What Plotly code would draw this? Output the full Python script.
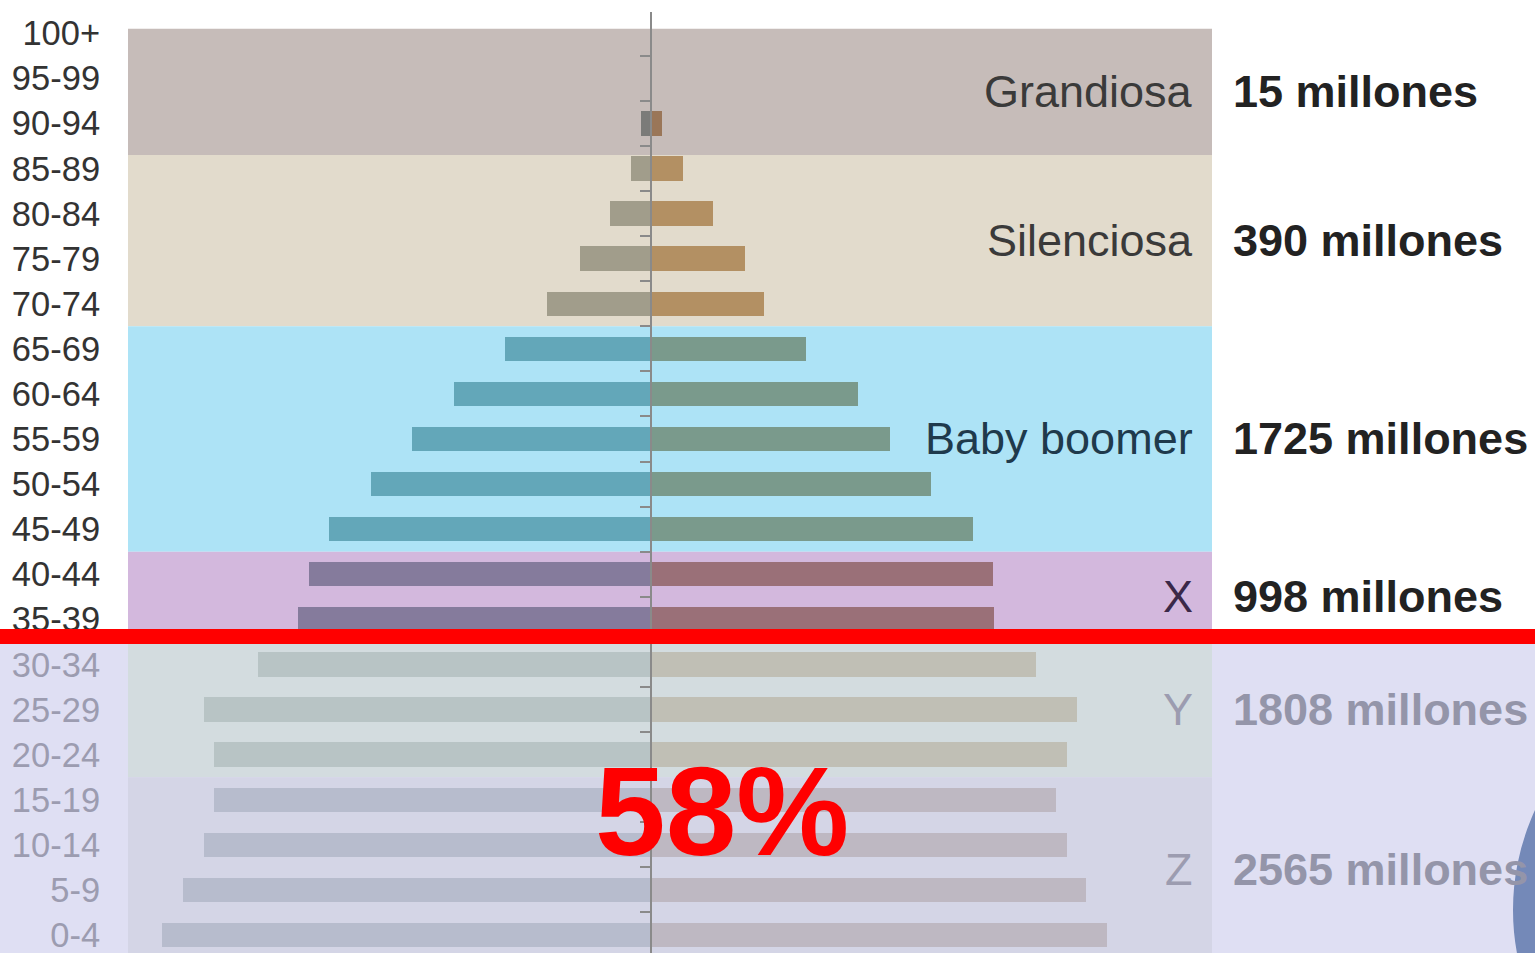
import plotly.graph_objects as go

# grupos de edad (de abajo hacia arriba)
edades = ['0-4', '5-9', '10-14', '15-19', '20-24', '25-29', '30-34', '35-39',
          '40-44', '45-49', '50-54', '55-59', '60-64', '65-69', '70-74',
          '75-79', '80-84', '85-89', '90-94', '95-99', '100+']
# millones de personas por grupo
hombres = [349, 334, 319, 312, 312, 319, 281, 252, 244, 230, 200, 171, 141,
           104, 74, 51, 29, 14, 7, 0.3, 0.2]
mujeres = [326, 311, 297, 289, 297, 304, 275, 245, 244, 230, 200, 171, 148,
           111, 81, 67, 44, 23, 8, 0.3, 0.2]

# generaciones
generaciones = ['Grandiosa', 'Silenciosa', 'Baby boomer', 'X', 'Y', 'Z']
totales = ['15 millones', '390 millones', '1725 millones', '998 millones',
           '1808 millones', '2565 millones']
num_grupos = [3, 4, 5, 2, 3, 4]          # grupos de edad por generacion (de arriba a abajo)
limites = [20.1, 17.3, 13.5, 8.5, 6.5, 3.5, -0.7]
porcentaje = '58%'

fondo = ['#c6bcb9', '#e2dbcc', '#ade3f6', '#d3b8dd', '#d3dcdf', '#d4d5e6']
col_h = ['#7b7b79', '#a19d8b', '#63a7b9', '#857b9c', '#b8c4c5', '#b7bccd']
col_m = ['#9a7658', '#b39063', '#7a9a8c', '#9a7078', '#c0bfb5', '#beb8c2']
col_nombre = ['#3a3a3a', '#3a3a3a', '#1f3a4c', '#3a2848', '#9c9cb0', '#9c9cb0']
col_total = ['#222222', '#222222', '#222222', '#222222', '#9495a9', '#9495a9']

px = 1.4                      # pixeles por millon
W, H = 1535, 953
x0 = 651                      # eje central
xr = [-x0 / px, (W - x0) / px]

gen_idx = []
for g, n in enumerate(num_grupos):
    gen_idx += [g] * n
gen_idx = gen_idx[::-1]       # de abajo hacia arriba
y = list(range(len(edades)))

fig = go.Figure()

fig.add_trace(go.Bar(y=y, x=[-v for v in hombres], orientation='h', width=0.54,
                     marker=dict(color=[col_h[g] for g in gen_idx], line_width=0),
                     showlegend=False))
fig.add_trace(go.Bar(y=y, x=mujeres, orientation='h', width=0.54,
                     marker=dict(color=[col_m[g] for g in gen_idx], line_width=0),
                     showlegend=False))

shapes = []
# zona atenuada (debajo de la linea roja)
shapes.append(dict(type='rect', xref='paper', yref='y', x0=0, x1=1, y0=-1, y1=6.62,
                   fillcolor='#dfdff3', line_width=0, layer='below'))
bx0, bx1 = (128 - x0) / px, (1212 - x0) / px
for g in range(len(generaciones)):
    shapes.append(dict(type='rect', xref='x', yref='y', x0=bx0, x1=bx1,
                       y0=limites[g + 1], y1=limites[g],
                       fillcolor=fondo[g], line_width=0, layer='below'))
# circulo azul a la derecha
shapes.append(dict(type='circle', xref='x', yref='y',
                   x0=(1513 - x0) / px, x1=(1989 - x0) / px, y0=-4.72, y1=5.83,
                   fillcolor='#7489b8', line_width=0, layer='below'))
# linea roja
shapes.append(dict(type='line', xref='paper', yref='y', x0=0, x1=1, y0=6.62, y1=6.62,
                   line=dict(color='#ff0000', width=15), layer='above'))

annotations = []
for g in range(len(generaciones)):
    ym = (limites[g] + limites[g + 1]) / 2
    if g == 5:
        ym = 1.45
    annotations.append(dict(x=(1195 - x0) / px, y=ym, xref='x', yref='y',
                            text=generaciones[g], showarrow=False, xanchor='right',
                            font=dict(size=45, color=col_nombre[g],
                                      family='Liberation Sans, Arial')))
    annotations.append(dict(x=(1231 - x0) / px, y=ym, xref='x', yref='y',
                            text='<b>' + totales[g] + '</b>', showarrow=False,
                            xanchor='left',
                            font=dict(size=45, color=col_total[g],
                                      family='Liberation Sans, Arial')))
annotations.append(dict(x=(722 - x0) / px, y=2.75, xref='x', yref='y',
                        text='<b>' + porcentaje + '</b>', showarrow=False,
                        font=dict(size=127, color='#ff0000',
                                  family='Liberation Sans, Arial')))

ticktext = []
for i, e in enumerate(edades):
    if i <= 6:
        ticktext.append("<span style='color:#9c9cb0'>" + e + "</span>")
    else:
        ticktext.append(e)

fig.update_layout(
    width=W, height=H,
    margin=dict(l=0, r=0, t=12, b=0),
    paper_bgcolor='white', plot_bgcolor='rgba(0,0,0,0)',
    barmode='overlay', bargap=0,
    shapes=shapes, annotations=annotations,
    font=dict(family='Liberation Sans, Arial', color='#333333'),
    xaxis=dict(range=xr, showgrid=False, zeroline=False, showticklabels=False,
               fixedrange=True),
    yaxis=dict(range=[-0.4, 20.47], tickvals=y, ticktext=ticktext,
               anchor='free', position=128 / W, side='left',
               ticks='outside', ticklen=21, tickcolor='rgba(0,0,0,0)',
               tickfont=dict(size=34.5, color='#333333'),
               ticklabeloverflow='allow',
               showgrid=False, zeroline=False, showline=False),
    yaxis2=dict(range=[-0.4, 20.47], overlaying='y', anchor='free',
                position=x0 / W, side='left',
                tickvals=[i - 0.5 for i in range(len(edades) + 1)],
                ticks='outside', ticklen=10, tickwidth=1.5, tickcolor='#8a8a8a',
                showticklabels=False, showline=True, linecolor='#8a8a8a',
                linewidth=1.5, showgrid=False, zeroline=False),
)
# traza invisible para que el eje central se dibuje
fig.add_trace(go.Scatter(x=[0], y=[0], yaxis='y2', mode='markers',
                         marker=dict(opacity=0), showlegend=False, hoverinfo='skip'))

fig.write_html("out.html", config={'displayModeBar': False},
               post_script="document.body.style.margin='0';")
